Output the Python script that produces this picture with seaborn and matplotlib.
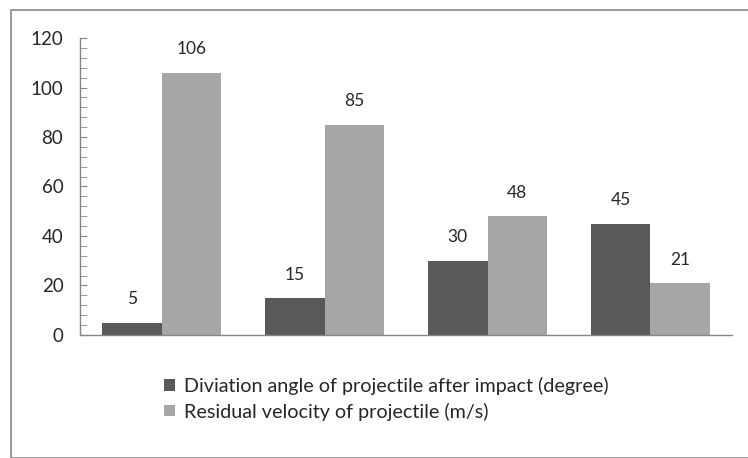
import pandas as pd
import matplotlib.pyplot as plt
import seaborn as sns
from matplotlib.ticker import MultipleLocator
from matplotlib.patches import Rectangle

# 데이터
groups = ['1', '2', '3', '4']
series_names = ['Diviation angle of projectile after impact (degree)',
                'Residual velocity of projectile (m/s)']
angle_values = [5, 15, 30, 45]
velocity_values = [106, 85, 48, 21]
y_ticks = [0, 20, 40, 60, 80, 100, 120]

df = pd.DataFrame({
    'group': groups * 2,
    'series': [series_names[0]] * 4 + [series_names[1]] * 4,
    'value': angle_values + velocity_values,
})

sns.set_style('white')
plt.rcParams['font.family'] = ['Lato', 'DejaVu Sans']

fig = plt.figure(figsize=(7.48, 4.58), dpi=100)
ax = fig.add_axes([0.107, 0.2686, 0.8716, 0.6484])

colors = ['#595959', '#a6a6a6']
sns.barplot(data=df, x='group', y='value', hue='series', palette=colors,
            width=0.73, saturation=1, linewidth=0, ax=ax, legend=True)

for cont in ax.containers:
    ax.bar_label(cont, padding=11, fontsize=12.5, color='#262626')

ax.set_ylim(0, 120)
ax.set_yticks(y_ticks)
ax.yaxis.set_minor_locator(MultipleLocator(4))
ax.tick_params(axis='y', which='both', direction='in', length=5, color='#868686',
               left=True, labelsize=13.5, labelcolor='#262626', pad=12)
ax.tick_params(axis='x', bottom=False, labelbottom=False)
ax.set_xlabel('')
ax.set_ylabel('')
for side in ['top', 'right']:
    ax.spines[side].set_visible(False)
for side in ['left', 'bottom']:
    ax.spines[side].set_color('#868686')
    ax.spines[side].set_linewidth(1)

# 범례
handles, labels = ax.get_legend_handles_labels()
ax.legend(handles, labels, loc='upper left', bbox_to_anchor=(0.102, -0.08),
          frameon=False, fontsize=14.2, handlelength=0.55, handleheight=0.55,
          handletextpad=0.45, labelspacing=0.4, labelcolor='#262626')

# 외곽 테두리
fig.patches.append(Rectangle((11 / 748, 0), 1, 1 - 10 / 458, transform=fig.transFigure,
                             fill=False, edgecolor='#888888', linewidth=1.2))

plt.savefig('out.png', dpi=100)
plt.close()
